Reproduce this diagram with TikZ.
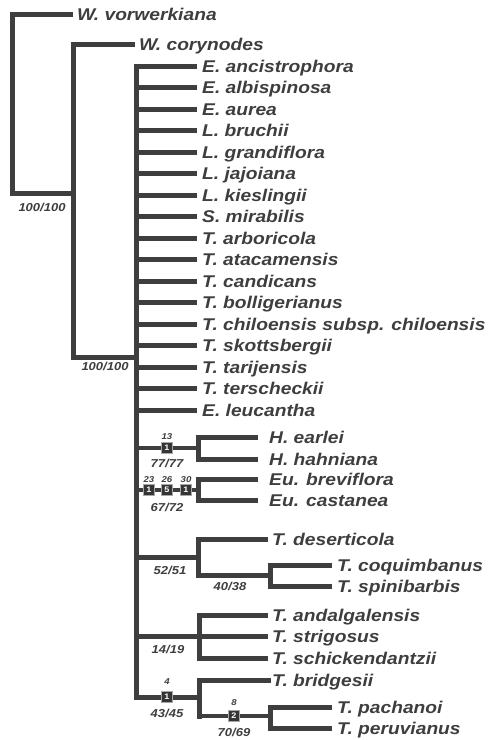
\documentclass[tikz,border=0pt]{standalone}
\usepackage{fontspec}
\setmainfont{Liberation Sans}[FakeStretch=1.13]
\usetikzlibrary{positioning}
\definecolor{branch}{HTML}{3e3e3e}
\tikzset{
  br/.style={draw=branch, line width=5pt, line join=miter},
  brthin/.style={draw=branch, line width=3.2pt},
  taxon/.style={inner sep=0pt, text height=12.4pt, text depth=0pt, text=branch,
    font=\fontsize{17}{17}\selectfont\bfseries\itshape},
  supp/.style={inner sep=0pt, text=branch, font=\fontsize{11.5}{11.5}\selectfont\bfseries\itshape},
  steps/.style={inner sep=0pt, text=branch, font=\fontsize{8.5}{8.5}\selectfont\bfseries\itshape},
  chg/.style={fill=branch!85!black, draw=white!55!branch, line width=0.6pt,
    minimum width=11pt, minimum height=10.5pt, inner sep=0pt, text=white,
    font=\fontsize{8}{8}\selectfont\bfseries},
}
\begin{document}
\begin{tikzpicture}[x=1pt,y=-1pt]
\useasboundingbox (0,0) rectangle (490,740);

% outgroups and backbone
\coordinate (root) at (12,193);
\coordinate (n1) at (73,193);
\coordinate (n2) at (136,357);
\coordinate (vor) at (73,14);
\coordinate (cor) at (135,44);
\draw[br] (vor) -| (root) -- (n1);
\draw[br] (cor) -| (n1) |- (n2);
\node[taxon, right=4pt of vor] (lvor) {W. vorwerkiana};
\node[taxon, right=4pt of cor] (lcor) {W. corynodes};
\node[supp] (sroot) at (42,207) {100/100};
\node[supp] (sn1) at (105,366) {100/100};

% unresolved part
\foreach \lab [count=\k from 0] in {E. ancistrophora, E. albispinosa, E. aurea,
    L. bruchii, L. grandiflora, L. jajoiana, L. kieslingii, S. mirabilis,
    T. arboricola, T. atacamensis, T. candicans, T. bolligerianus,
    T. chiloensis subsp. chiloensis, T. skottsbergii, T. tarijensis,
    T. terscheckii, E. leucantha} {
  \coordinate (p\k) at (197,66+21.5*\k);
  \draw[br] (n2 |- p\k) -- (p\k);
  \node[taxon, right=5pt of p\k] (lp\k) {\lab};
}

\coordinate (hh) at (198,448);
\coordinate (eu) at (198,490);
\coordinate (des) at (198,557);
\coordinate (coq) at (270,575);
\coordinate (and) at (199,636);
\coordinate (bri) at (199,697);
\coordinate (pac) at (270,716);

\draw[br] (p0) -| (n2 |- bri) -- (bri);

% Haageocereus
\coordinate (hea) at (258,437.5);
\coordinate (hha) at (258,459);
\draw[br] (hea) -| (hh) |- (hha);
\draw[brthin] (n2 |- hh) -- (hh);
\node[chg] (bh) at (167,448) {1};
\node[steps] (kh) at (167,437) {13};
\node[supp] (sh) at (167,463.5) {77/77};
\node[taxon, right=11pt of hea] (lhea) {H. earlei};
\node[taxon, right=11pt of hha] (lhha) {H. hahniana};

% Eulychnia
\coordinate (ebr) at (258,479);
\coordinate (eca) at (258,500);
\draw[br] (ebr) -| (eu) |- (eca);
\draw[brthin] (n2 |- eu) -- (eu);
\node[chg] (be1) at (149,490) {1};
\node[chg] (be2) at (167,490) {5};
\node[chg] (be3) at (186,490) {1};
\node[steps] (ke1) at (149,480) {23};
\node[steps] (ke2) at (167,480) {26};
\node[steps] (ke3) at (186,480) {30};
\node[supp] (seu) at (167,507) {67/72};
\node[taxon, right=11pt of ebr] (lebr) {Eu. breviflora};
\node[taxon, right=11pt of eca] (leca) {Eu. castanea};

% deserticola group
\coordinate (tde) at (268,539);
\coordinate (tco) at (332,565);
\coordinate (tsp) at (332,586);
\draw[br] (n2 |- des) -- (des);
\draw[br] (tde) -| (des) |- (coq);
\draw[br] (tco) -| (coq) |- (tsp);
\node[supp] (sdes) at (170,570) {52/51};
\node[supp] (scoq) at (230,586) {40/38};
\node[taxon, right=4pt of tde] (ltde) {T. deserticola};
\node[taxon, right=5pt of tco] (ltco) {T. coquimbanus};
\node[taxon, right=5pt of tsp] (ltsp) {T. spinibarbis};

% andalgalensis group
\coordinate (tan) at (268,615);
\coordinate (tst) at (268,636);
\coordinate (tsc) at (268,658);
\draw[br] (tan) -| (and) |- (tsc);
\draw[br] (n2 |- and) -- (tst);
\node[supp] (sand) at (168,649) {14/19};
\node[taxon, right=4pt of tan] (ltan) {T. andalgalensis};
\node[taxon, right=4pt of tst] (ltst) {T. strigosus};
\node[taxon, right=4pt of tsc] (ltsc) {T. schickendantzii};

% bridgesii group
\coordinate (tbr) at (268,680);
\coordinate (tpa) at (332,707);
\coordinate (tpe) at (332,728);
\draw[br, line cap=rect] (tbr) -| (bri |- pac);
\draw[brthin] (bri |- pac) -- (pac);
\draw[br] (tpa) -| (pac) |- (tpe);
\node[chg] (bb) at (167,697) {1};
\node[steps] (kb) at (167,682) {4};
\node[supp] (sbri) at (167,713) {43/45};
\node[chg] (bp) at (234,716) {2};
\node[steps] (kp) at (234,703) {8};
\node[supp] (spac) at (234,732) {70/69};
\node[taxon, right=4pt of tbr] (ltbr) {T. bridgesii};
\node[taxon, right=5pt of tpa] (ltpa) {T. pachanoi};
\node[taxon, right=5pt of tpe] (ltpe) {T. peruvianus};
\end{tikzpicture}
\end{document}
